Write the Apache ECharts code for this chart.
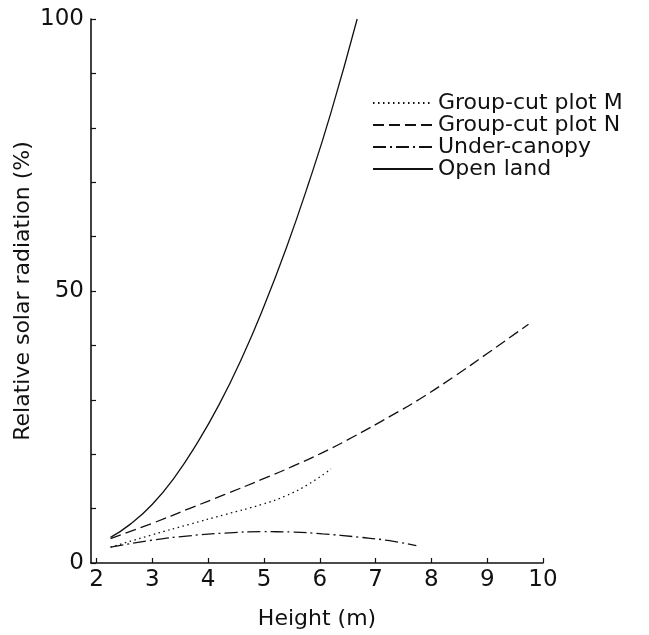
<!DOCTYPE html>
<html>
<head>
<meta charset="utf-8">
<script src="https://cdn.jsdelivr.net/npm/echarts@6/dist/echarts.min.js"></script>
<style>html,body{margin:0;padding:0;background:#fff}#c{width:649px;height:635px}</style>
</head>
<body>
<div id="c"></div>
<script>
const xTicks = [2, 3, 4, 5, 6, 7, 8, 9, 10];
const yLabels = [0, 50, 100];
const seriesNames = ['Group-cut plot M', 'Group-cut plot N', 'Under-canopy', 'Open land'];
const plotM = [[2.25, 2.9], [3.0, 5.2], [3.66, 7.1], [4.3, 8.9], [4.97, 10.8], [5.4, 12.4], [5.8, 14.5], [6.2, 17.3]];
const plotN = [[2.25, 4.5], [3.0, 7.3], [3.66, 10.0], [4.3, 12.6], [4.97, 15.4], [5.5, 17.7], [6.05, 20.3], [6.6, 23.2], [7.25, 26.9], [7.8, 30.2], [8.41, 34.3], [9.0, 38.5], [9.74, 43.9]];
const underCanopy = [[2.25, 2.9], [3.0, 4.2], [3.66, 5.0], [4.3, 5.5], [4.97, 5.75], [5.5, 5.7], [6.05, 5.35], [6.7, 4.75], [7.25, 4.1], [7.73, 3.2]];
const openLand = [[2.25, 4.7], [2.6, 7.1], [3.0, 10.8], [3.4, 15.8], [3.8, 22.0], [4.2, 29.2], [4.6, 37.6], [5.0, 47.2], [5.4, 57.9], [5.8, 69.8], [6.2, 82.8], [6.67, 100]];

const FONT = 'DejaVu Sans';
const chart = echarts.init(document.getElementById('c'));
const mk = (name, data, type) => ({
  name, type: 'line', data, smooth: 0.5, symbol: 'none', showSymbol: false,
  itemStyle: { color: '#111' },
  lineStyle: { color: '#111', width: 1.3, type }
});
chart.setOption({
  animation: false,
  backgroundColor: '#fff',
  textStyle: { fontFamily: FONT, color: '#111' },
  grid: { left: 91, right: 106, top: 19, bottom: 66, containLabel: false },
  legend: {
    orient: 'vertical', left: 367, top: 87, itemWidth: 60, itemHeight: 14, itemGap: 0,
    data: seriesNames,
    itemStyle: { color: 'transparent', borderWidth: 0, opacity: 0 },
    textStyle: { fontFamily: FONT, fontSize: 22, color: '#111', lineHeight: 22 }
  },
  xAxis: {
    type: 'value', min: 1.9, max: 10,
    name: 'Height (m)', nameLocation: 'middle', nameGap: 45,
    nameTextStyle: { fontFamily: FONT, fontSize: 22, color: '#111' },
    axisLine: { lineStyle: { color: '#111', width: 1.6 } },
    axisTick: { inside: true, length: 5, customValues: xTicks, lineStyle: { color: '#111', width: 1.2 } },
    axisLabel: { customValues: xTicks, margin: 6, fontFamily: FONT, fontSize: 23, color: '#111' },
    splitLine: { show: false }
  },
  yAxis: {
    type: 'value', min: 0, max: 100, interval: 10,
    name: 'Relative solar radiation (%)', nameLocation: 'middle', nameGap: 57, nameRotate: 90,
    nameMoveOverlap: false,
    nameTextStyle: { fontFamily: FONT, fontSize: 22, color: '#111' },
    axisLine: { show: true, lineStyle: { color: '#111', width: 1.6 } },
    axisTick: { show: true, inside: true, length: 5, lineStyle: { color: '#111', width: 1.2 } },
    axisLabel: {
      margin: 7, fontFamily: FONT, fontSize: 23, color: '#111',
      formatter: v => yLabels.indexOf(v) >= 0 ? String(v) : ''
    },
    splitLine: { show: false }
  },
  series: [
    mk(seriesNames[0], plotM, [1.5, 3.5]),
    mk(seriesNames[1], plotN, [11, 5]),
    mk(seriesNames[2], underCanopy, [13, 4, 2, 4]),
    mk(seriesNames[3], openLand, 'solid')
  ]
});
</script>
</body>
</html>
